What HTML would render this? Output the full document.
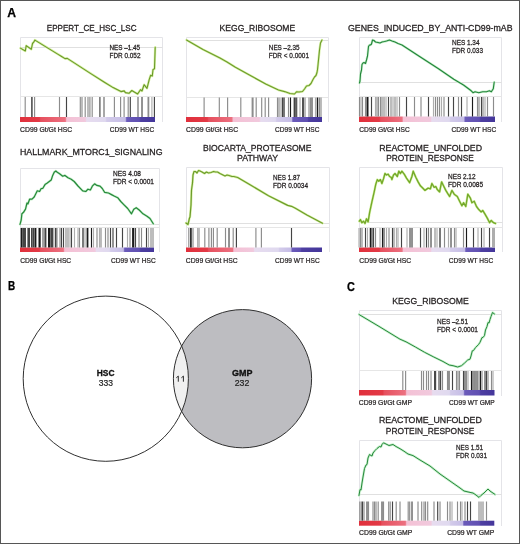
<!DOCTYPE html><html><head><meta charset="utf-8"><style>html,body{margin:0;padding:0;background:#fff;}svg{display:block;filter:blur(0.3px);}text{font-family:"Liberation Sans", sans-serif;}</style></head><body>
<svg width="520" height="544" viewBox="0 0 520 544">
<rect x="0" y="0" width="520" height="544" fill="#fff"/>
<text x="7.2" y="17" font-size="12" font-weight="bold" text-anchor="start" fill="#000" stroke="#000" stroke-width="0.25" textLength="8.8" lengthAdjust="spacingAndGlyphs">A</text>
<text x="8.1" y="290.2" font-size="12" font-weight="bold" text-anchor="start" fill="#000" stroke="#000" stroke-width="0.25" textLength="7.2" lengthAdjust="spacingAndGlyphs">B</text>
<text x="347.1" y="290.5" font-size="12" font-weight="bold" text-anchor="start" fill="#000" stroke="#000" stroke-width="0.25" textLength="7.9" lengthAdjust="spacingAndGlyphs">C</text>
<path d="M20.5 122 V37.5 H162.5 V122" fill="none" stroke="#e4e4e8" stroke-width="1"/>
<line x1="20.5" y1="47.5" x2="162.5" y2="47.5" stroke="#e0e0e0" stroke-width="1"/>
<line x1="20.5" y1="96.5" x2="162.5" y2="96.5" stroke="#e6e6e6" stroke-width="1"/>
<defs><linearGradient id="g1" gradientUnits="userSpaceOnUse" x1="20" y1="0" x2="155" y2="0"><stop offset="0.0000" stop-color="#e0303c"/><stop offset="0.1430" stop-color="#e33a46"/><stop offset="0.1533" stop-color="#e6505e"/><stop offset="0.3356" stop-color="#ec7080"/><stop offset="0.3459" stop-color="#f4c1d5"/><stop offset="0.4837" stop-color="#f1c9dd"/><stop offset="0.4941" stop-color="#e7dcef"/><stop offset="0.6319" stop-color="#dfd9ef"/><stop offset="0.6422" stop-color="#d3cbea"/><stop offset="0.7800" stop-color="#c5bde6"/><stop offset="0.7904" stop-color="#6b5bba"/><stop offset="0.8837" stop-color="#6050b2"/><stop offset="0.8941" stop-color="#4e3fa2"/><stop offset="1.0000" stop-color="#44369a"/></linearGradient></defs>
<rect x="20" y="117" width="135" height="5" fill="url(#g1)"/>
<rect x="24.62" y="97" width="1.15" height="20" fill="#8c8c8c"/>
<rect x="31.15" y="97" width="1.50" height="20" fill="#444444"/>
<rect x="34.02" y="97" width="1.15" height="20" fill="#8c8c8c"/>
<rect x="58.92" y="97" width="1.15" height="20" fill="#8c8c8c"/>
<rect x="65.92" y="97" width="1.15" height="20" fill="#444444"/>
<rect x="79.72" y="97" width="1.15" height="20" fill="#8c8c8c"/>
<rect x="81.42" y="97" width="1.15" height="20" fill="#8c8c8c"/>
<rect x="84.62" y="97" width="1.15" height="20" fill="#8c8c8c"/>
<rect x="87.42" y="97" width="1.15" height="20" fill="#8c8c8c"/>
<rect x="89.33" y="97" width="1.15" height="20" fill="#8c8c8c"/>
<rect x="91.62" y="97" width="1.15" height="20" fill="#8c8c8c"/>
<rect x="99.33" y="97" width="1.15" height="20" fill="#444444"/>
<rect x="103.25" y="97" width="1.50" height="20" fill="#8c8c8c"/>
<rect x="113.83" y="97" width="1.15" height="20" fill="#8c8c8c"/>
<rect x="120.02" y="97" width="1.15" height="20" fill="#8c8c8c"/>
<rect x="123.52" y="97" width="1.15" height="20" fill="#8c8c8c"/>
<rect x="127.62" y="97" width="1.15" height="20" fill="#8c8c8c"/>
<rect x="129.73" y="97" width="1.15" height="20" fill="#444444"/>
<rect x="137.25" y="97" width="1.50" height="20" fill="#8c8c8c"/>
<rect x="141.43" y="97" width="1.15" height="20" fill="#444444"/>
<rect x="147.50" y="97" width="1.80" height="20" fill="#8c8c8c"/>
<rect x="151.33" y="97" width="1.15" height="20" fill="#adadad"/>
<rect x="153.83" y="97" width="1.15" height="20" fill="#444444"/>
<polyline points="20.4,48.1 25.3,51.0 26.2,45.6 31.3,49.3 32.6,43.2 33.5,42.5 34.9,40.1 58.5,54.6 61.2,56.2 65.0,58.6 67.3,58.4 90.0,73.1 104.4,82.2 113.1,87.6 121.0,91.6 124.2,90.9 125.4,92.6 129.0,93.3 131.8,90.5 137.6,94.0 140.5,89.7 142.0,91.0 144.1,84.7 147.0,88.3 149.2,79.6 150.6,75.3 152.3,76.0 153.0,69.5 154.5,68.8 155.2,47.2" fill="none" stroke="#d8f0a8" stroke-width="2.4" stroke-linejoin="round" stroke-linecap="round"/>
<polyline points="20.4,48.1 25.3,51.0 26.2,45.6 31.3,49.3 32.6,43.2 33.5,42.5 34.9,40.1 58.5,54.6 61.2,56.2 65.0,58.6 67.3,58.4 90.0,73.1 104.4,82.2 113.1,87.6 121.0,91.6 124.2,90.9 125.4,92.6 129.0,93.3 131.8,90.5 137.6,94.0 140.5,89.7 142.0,91.0 144.1,84.7 147.0,88.3 149.2,79.6 150.6,75.3 152.3,76.0 153.0,69.5 154.5,68.8 155.2,47.2" fill="none" stroke="#6a9a28" stroke-width="1.1" stroke-linejoin="round" stroke-linecap="round"/>
<text x="46.8" y="30.6" font-size="9.7" font-weight="normal" text-anchor="start" fill="#231f20" stroke="#231f20" stroke-width="0.3" textLength="89.7" lengthAdjust="spacingAndGlyphs">EPPERT_CE_HSC_LSC</text>
<text x="109.5" y="50" font-size="7.2" font-weight="normal" text-anchor="start" fill="#231f20" stroke="#231f20" stroke-width="0.26" textLength="30.5" lengthAdjust="spacingAndGlyphs">NES –1.45</text>
<text x="109.5" y="57.5" font-size="7.2" font-weight="normal" text-anchor="start" fill="#231f20" stroke="#231f20" stroke-width="0.26" textLength="31.0" lengthAdjust="spacingAndGlyphs">FDR 0.052</text>
<text x="20.1" y="131.8" font-size="7.0" font-weight="normal" text-anchor="start" fill="#231f20" stroke="#231f20" stroke-width="0.22" textLength="52.1" lengthAdjust="spacingAndGlyphs">CD99 Gt/Gt HSC</text>
<text x="109.8" y="131.8" font-size="7.0" font-weight="normal" text-anchor="start" fill="#231f20" stroke="#231f20" stroke-width="0.22" textLength="44.4" lengthAdjust="spacingAndGlyphs">CD99 WT HSC</text>
<path d="M186.5 122 V37.5 H328.5 V122" fill="none" stroke="#e4e4e8" stroke-width="1"/>
<line x1="186.5" y1="40.5" x2="328.5" y2="40.5" stroke="#e0e0e0" stroke-width="1"/>
<line x1="186.5" y1="97.5" x2="328.5" y2="97.5" stroke="#e6e6e6" stroke-width="1"/>
<defs><linearGradient id="g2" gradientUnits="userSpaceOnUse" x1="186" y1="0" x2="322" y2="0"><stop offset="0.0000" stop-color="#e0303c"/><stop offset="0.1566" stop-color="#e33a46"/><stop offset="0.1669" stop-color="#e6505e"/><stop offset="0.3368" stop-color="#ec7080"/><stop offset="0.3471" stop-color="#f4c1d5"/><stop offset="0.5390" stop-color="#f1c9dd"/><stop offset="0.5493" stop-color="#e7dcef"/><stop offset="0.6566" stop-color="#dfd9ef"/><stop offset="0.6669" stop-color="#d3cbea"/><stop offset="0.7757" stop-color="#c5bde6"/><stop offset="0.7860" stop-color="#6b5bba"/><stop offset="0.8919" stop-color="#6050b2"/><stop offset="0.9022" stop-color="#4e3fa2"/><stop offset="1.0000" stop-color="#44369a"/></linearGradient></defs>
<rect x="186" y="117" width="136" height="5" fill="url(#g2)"/>
<rect x="203.53" y="97.5" width="1.15" height="19.5" fill="#8c8c8c"/>
<rect x="218.73" y="97.5" width="1.15" height="19.5" fill="#8c8c8c"/>
<rect x="227.03" y="97.5" width="1.15" height="19.5" fill="#8c8c8c"/>
<rect x="240.23" y="97.5" width="1.15" height="19.5" fill="#8c8c8c"/>
<rect x="251.60" y="97.5" width="2.00" height="19.5" fill="#8c8c8c"/>
<rect x="255.62" y="97.5" width="1.15" height="19.5" fill="#8c8c8c"/>
<rect x="261.12" y="97.5" width="1.15" height="19.5" fill="#8c8c8c"/>
<rect x="264.62" y="97.5" width="1.15" height="19.5" fill="#8c8c8c"/>
<rect x="268.03" y="97.5" width="1.15" height="19.5" fill="#8c8c8c"/>
<rect x="276.93" y="97.5" width="1.15" height="19.5" fill="#8c8c8c"/>
<rect x="278.43" y="97.5" width="1.15" height="19.5" fill="#8c8c8c"/>
<rect x="280.43" y="97.5" width="1.15" height="19.5" fill="#adadad"/>
<rect x="281.93" y="97.5" width="1.15" height="19.5" fill="#444444"/>
<rect x="283.43" y="97.5" width="1.15" height="19.5" fill="#1a1a1a"/>
<rect x="287.93" y="97.5" width="1.15" height="19.5" fill="#8c8c8c"/>
<rect x="289.93" y="97.5" width="1.15" height="19.5" fill="#1a1a1a"/>
<rect x="293.60" y="97.5" width="2.20" height="19.5" fill="#444444"/>
<rect x="296.12" y="97.5" width="1.15" height="19.5" fill="#444444"/>
<rect x="299.43" y="97.5" width="1.15" height="19.5" fill="#adadad"/>
<rect x="302.25" y="97.5" width="1.50" height="19.5" fill="#1a1a1a"/>
<rect x="304.43" y="97.5" width="1.15" height="19.5" fill="#8c8c8c"/>
<rect x="308.43" y="97.5" width="1.15" height="19.5" fill="#8c8c8c"/>
<rect x="309.93" y="97.5" width="1.15" height="19.5" fill="#8c8c8c"/>
<rect x="311.43" y="97.5" width="1.15" height="19.5" fill="#444444"/>
<rect x="314.93" y="97.5" width="1.15" height="19.5" fill="#adadad"/>
<rect x="316.75" y="97.5" width="1.50" height="19.5" fill="#1a1a1a"/>
<rect x="318.93" y="97.5" width="1.15" height="19.5" fill="#8c8c8c"/>
<rect x="320.43" y="97.5" width="1.15" height="19.5" fill="#8c8c8c"/>
<polyline points="186.5,40.0 203.0,49.5 220.0,58.1 227.0,62.0 235.4,67.3 250.8,75.8 266.2,84.2 278.5,90.0 284.6,91.6 290.0,93.5 294.5,94.0 296.5,91.8 299.0,92.0 302.5,91.5 304.5,89.0 306.5,86.0 309.0,85.5 311.0,83.5 313.0,79.5 314.5,77.0 316.0,75.5 317.0,72.5 317.5,69.5 318.0,65.0 318.5,60.0 319.5,50.0 320.5,43.0 322.0,40.0" fill="none" stroke="#d8f0a8" stroke-width="2.4" stroke-linejoin="round" stroke-linecap="round"/>
<polyline points="186.5,40.0 203.0,49.5 220.0,58.1 227.0,62.0 235.4,67.3 250.8,75.8 266.2,84.2 278.5,90.0 284.6,91.6 290.0,93.5 294.5,94.0 296.5,91.8 299.0,92.0 302.5,91.5 304.5,89.0 306.5,86.0 309.0,85.5 311.0,83.5 313.0,79.5 314.5,77.0 316.0,75.5 317.0,72.5 317.5,69.5 318.0,65.0 318.5,60.0 319.5,50.0 320.5,43.0 322.0,40.0" fill="none" stroke="#6c9c2a" stroke-width="1.1" stroke-linejoin="round" stroke-linecap="round"/>
<text x="219.6" y="30.9" font-size="9.7" font-weight="normal" text-anchor="start" fill="#231f20" stroke="#231f20" stroke-width="0.3" textLength="75.5" lengthAdjust="spacingAndGlyphs">KEGG_RIBOSOME</text>
<text x="268.8" y="49.8" font-size="7.2" font-weight="normal" text-anchor="start" fill="#231f20" stroke="#231f20" stroke-width="0.26" textLength="30.7" lengthAdjust="spacingAndGlyphs">NES –2.35</text>
<text x="268.8" y="57.5" font-size="7.2" font-weight="normal" text-anchor="start" fill="#231f20" stroke="#231f20" stroke-width="0.26" textLength="40.2" lengthAdjust="spacingAndGlyphs">FDR &lt; 0.0001</text>
<text x="186" y="131.8" font-size="7.0" font-weight="normal" text-anchor="start" fill="#231f20" stroke="#231f20" stroke-width="0.22" textLength="52.1" lengthAdjust="spacingAndGlyphs">CD99 Gt/Gt HSC</text>
<text x="275.1" y="131.8" font-size="7.0" font-weight="normal" text-anchor="start" fill="#231f20" stroke="#231f20" stroke-width="0.22" textLength="44.4" lengthAdjust="spacingAndGlyphs">CD99 WT HSC</text>
<path d="M359.5 122 V37.5 H501.5 V122" fill="none" stroke="#e4e4e8" stroke-width="1"/>
<line x1="359.5" y1="82.5" x2="501.5" y2="82.5" stroke="#e0e0e0" stroke-width="1"/>
<line x1="359.5" y1="96.5" x2="501.5" y2="96.5" stroke="#e6e6e6" stroke-width="1"/>
<defs><linearGradient id="g3" gradientUnits="userSpaceOnUse" x1="359" y1="0" x2="495" y2="0"><stop offset="0.0000" stop-color="#e0303c"/><stop offset="0.1493" stop-color="#e33a46"/><stop offset="0.1596" stop-color="#e6505e"/><stop offset="0.3162" stop-color="#ec7080"/><stop offset="0.3265" stop-color="#f4c1d5"/><stop offset="0.5257" stop-color="#f1c9dd"/><stop offset="0.5360" stop-color="#e7dcef"/><stop offset="0.6640" stop-color="#dfd9ef"/><stop offset="0.6743" stop-color="#d3cbea"/><stop offset="0.7706" stop-color="#c5bde6"/><stop offset="0.7809" stop-color="#6b5bba"/><stop offset="0.8846" stop-color="#6050b2"/><stop offset="0.8949" stop-color="#4e3fa2"/><stop offset="1.0000" stop-color="#44369a"/></linearGradient></defs>
<rect x="359" y="116.5" width="136" height="5.5" fill="url(#g3)"/>
<rect x="358.93" y="97" width="1.15" height="19.5" fill="#8c8c8c"/>
<rect x="360.43" y="97" width="1.15" height="19.5" fill="#adadad"/>
<rect x="361.93" y="97" width="1.15" height="19.5" fill="#8c8c8c"/>
<rect x="364.93" y="97" width="1.15" height="19.5" fill="#8c8c8c"/>
<rect x="366.50" y="97" width="2.00" height="19.5" fill="#1a1a1a"/>
<rect x="370.93" y="97" width="1.15" height="19.5" fill="#444444"/>
<rect x="374.93" y="97" width="1.15" height="19.5" fill="#adadad"/>
<rect x="376.43" y="97" width="1.15" height="19.5" fill="#8c8c8c"/>
<rect x="377.93" y="97" width="1.15" height="19.5" fill="#8c8c8c"/>
<rect x="379.93" y="97" width="1.15" height="19.5" fill="#8c8c8c"/>
<rect x="381.43" y="97" width="1.15" height="19.5" fill="#8c8c8c"/>
<rect x="383.43" y="97" width="1.15" height="19.5" fill="#8c8c8c"/>
<rect x="385.43" y="97" width="1.15" height="19.5" fill="#adadad"/>
<rect x="387.93" y="97" width="1.15" height="19.5" fill="#444444"/>
<rect x="390.43" y="97" width="1.15" height="19.5" fill="#8c8c8c"/>
<rect x="392.43" y="97" width="1.15" height="19.5" fill="#adadad"/>
<rect x="394.43" y="97" width="1.15" height="19.5" fill="#8c8c8c"/>
<rect x="396.43" y="97" width="1.15" height="19.5" fill="#adadad"/>
<rect x="398.93" y="97" width="1.15" height="19.5" fill="#8c8c8c"/>
<rect x="405.93" y="97" width="1.15" height="19.5" fill="#444444"/>
<rect x="413.93" y="97" width="1.15" height="19.5" fill="#8c8c8c"/>
<rect x="420.43" y="97" width="1.15" height="19.5" fill="#8c8c8c"/>
<rect x="427.93" y="97" width="1.15" height="19.5" fill="#444444"/>
<rect x="432.93" y="97" width="1.15" height="19.5" fill="#adadad"/>
<rect x="434.93" y="97" width="1.15" height="19.5" fill="#8c8c8c"/>
<rect x="436.93" y="97" width="1.15" height="19.5" fill="#8c8c8c"/>
<rect x="438.93" y="97" width="1.15" height="19.5" fill="#8c8c8c"/>
<rect x="440.93" y="97" width="1.15" height="19.5" fill="#adadad"/>
<rect x="443.43" y="97" width="1.15" height="19.5" fill="#8c8c8c"/>
<rect x="447.93" y="97" width="1.15" height="19.5" fill="#444444"/>
<rect x="452.93" y="97" width="1.15" height="19.5" fill="#444444"/>
<rect x="457.93" y="97" width="1.15" height="19.5" fill="#8c8c8c"/>
<rect x="460.93" y="97" width="1.15" height="19.5" fill="#444444"/>
<rect x="466.43" y="97" width="1.15" height="19.5" fill="#adadad"/>
<rect x="471.93" y="97" width="1.15" height="19.5" fill="#1a1a1a"/>
<rect x="476.93" y="97" width="1.15" height="19.5" fill="#8c8c8c"/>
<rect x="478.43" y="97" width="1.15" height="19.5" fill="#8c8c8c"/>
<rect x="480.93" y="97" width="1.15" height="19.5" fill="#444444"/>
<rect x="482.43" y="97" width="1.15" height="19.5" fill="#8c8c8c"/>
<rect x="484.43" y="97" width="1.15" height="19.5" fill="#adadad"/>
<rect x="486.93" y="97" width="1.15" height="19.5" fill="#8c8c8c"/>
<rect x="492.93" y="97" width="1.15" height="19.5" fill="#8c8c8c"/>
<polyline points="359.5,83.0 360.0,81.0 360.5,74.0 361.5,70.0 362.0,64.5 363.0,63.0 364.0,62.5 365.5,63.5 366.5,60.0 367.5,56.0 368.5,46.5 369.5,45.0 370.5,45.0 371.5,44.0 372.5,40.0 374.0,40.5 375.5,42.0 378.0,42.5 380.0,43.0 382.0,42.0 384.5,41.5 386.5,41.0 389.5,40.0 392.0,41.0 395.0,42.0 398.0,43.5 402.0,45.0 405.8,47.5 419.2,56.2 438.5,68.7 453.8,79.2 463.5,85.0 471.2,90.8 473.0,92.7 475.0,91.7 478.8,92.7 482.7,91.7 486.5,91.7 489.4,90.8 491.3,91.7 493.3,88.8 494.2,82.1" fill="none" stroke="#c8f0cc" stroke-width="2.4" stroke-linejoin="round" stroke-linecap="round"/>
<polyline points="359.5,83.0 360.0,81.0 360.5,74.0 361.5,70.0 362.0,64.5 363.0,63.0 364.0,62.5 365.5,63.5 366.5,60.0 367.5,56.0 368.5,46.5 369.5,45.0 370.5,45.0 371.5,44.0 372.5,40.0 374.0,40.5 375.5,42.0 378.0,42.5 380.0,43.0 382.0,42.0 384.5,41.5 386.5,41.0 389.5,40.0 392.0,41.0 395.0,42.0 398.0,43.5 402.0,45.0 405.8,47.5 419.2,56.2 438.5,68.7 453.8,79.2 463.5,85.0 471.2,90.8 473.0,92.7 475.0,91.7 478.8,92.7 482.7,91.7 486.5,91.7 489.4,90.8 491.3,91.7 493.3,88.8 494.2,82.1" fill="none" stroke="#22843a" stroke-width="1.1" stroke-linejoin="round" stroke-linecap="round"/>
<text x="348" y="30.6" font-size="9.7" font-weight="normal" text-anchor="start" fill="#231f20" stroke="#231f20" stroke-width="0.3" textLength="164.5" lengthAdjust="spacingAndGlyphs">GENES_INDUCED_BY_ANTI-CD99-mAB</text>
<text x="452" y="44.5" font-size="7.2" font-weight="normal" text-anchor="start" fill="#231f20" stroke="#231f20" stroke-width="0.26" textLength="27.5" lengthAdjust="spacingAndGlyphs">NES 1.34</text>
<text x="452" y="52.5" font-size="7.2" font-weight="normal" text-anchor="start" fill="#231f20" stroke="#231f20" stroke-width="0.26" textLength="31" lengthAdjust="spacingAndGlyphs">FDR 0.033</text>
<text x="359.3" y="131.8" font-size="7.0" font-weight="normal" text-anchor="start" fill="#231f20" stroke="#231f20" stroke-width="0.22" textLength="50.5" lengthAdjust="spacingAndGlyphs">CD99 Gt/Gt HSC</text>
<text x="451.5" y="131.8" font-size="7.0" font-weight="normal" text-anchor="start" fill="#231f20" stroke="#231f20" stroke-width="0.22" textLength="44.7" lengthAdjust="spacingAndGlyphs">CD99 WT HSC</text>
<path d="M20.5 252 V168.5 H159.5 V252" fill="none" stroke="#e4e4e8" stroke-width="1"/>
<line x1="20.5" y1="224.5" x2="159.5" y2="224.5" stroke="#e0e0e0" stroke-width="1"/>
<line x1="20.5" y1="227.5" x2="159.5" y2="227.5" stroke="#e6e6e6" stroke-width="1"/>
<defs><linearGradient id="g4" gradientUnits="userSpaceOnUse" x1="20" y1="0" x2="154" y2="0"><stop offset="0.0000" stop-color="#e0303c"/><stop offset="0.1440" stop-color="#e33a46"/><stop offset="0.1545" stop-color="#e6505e"/><stop offset="0.3231" stop-color="#ec7080"/><stop offset="0.3336" stop-color="#f4c1d5"/><stop offset="0.5597" stop-color="#f1c9dd"/><stop offset="0.5701" stop-color="#e7dcef"/><stop offset="0.6664" stop-color="#dfd9ef"/><stop offset="0.6769" stop-color="#d3cbea"/><stop offset="0.7709" stop-color="#c5bde6"/><stop offset="0.7813" stop-color="#6b5bba"/><stop offset="0.8903" stop-color="#6050b2"/><stop offset="0.9007" stop-color="#4e3fa2"/><stop offset="1.0000" stop-color="#44369a"/></linearGradient></defs>
<rect x="20" y="247.5" width="134" height="4.5" fill="url(#g4)"/>
<rect x="20.65" y="228" width="1.50" height="19.5" fill="#1a1a1a"/>
<rect x="22.20" y="228" width="2.80" height="19.5" fill="#444444"/>
<rect x="25.20" y="228" width="0.80" height="19.5" fill="#1a1a1a"/>
<rect x="27.40" y="228" width="2.60" height="19.5" fill="#444444"/>
<rect x="31.00" y="228" width="1.60" height="19.5" fill="#444444"/>
<rect x="32.60" y="228" width="2.00" height="19.5" fill="#444444"/>
<rect x="34.80" y="228" width="1.60" height="19.5" fill="#1a1a1a"/>
<rect x="38.50" y="228" width="2.20" height="19.5" fill="#1a1a1a"/>
<rect x="42.20" y="228" width="1.60" height="19.5" fill="#8c8c8c"/>
<rect x="44.40" y="228" width="2.00" height="19.5" fill="#444444"/>
<rect x="48.00" y="228" width="2.60" height="19.5" fill="#1a1a1a"/>
<rect x="51.00" y="228" width="2.40" height="19.5" fill="#444444"/>
<rect x="54.80" y="228" width="1.80" height="19.5" fill="#444444"/>
<rect x="56.42" y="228" width="1.15" height="19.5" fill="#8c8c8c"/>
<rect x="59.42" y="228" width="1.15" height="19.5" fill="#8c8c8c"/>
<rect x="60.92" y="228" width="1.15" height="19.5" fill="#444444"/>
<rect x="62.92" y="228" width="1.15" height="19.5" fill="#444444"/>
<rect x="65.42" y="228" width="1.15" height="19.5" fill="#8c8c8c"/>
<rect x="67.42" y="228" width="1.15" height="19.5" fill="#8c8c8c"/>
<rect x="69.42" y="228" width="1.15" height="19.5" fill="#adadad"/>
<rect x="70.92" y="228" width="1.15" height="19.5" fill="#444444"/>
<rect x="73.92" y="228" width="1.15" height="19.5" fill="#adadad"/>
<rect x="77.42" y="228" width="1.15" height="19.5" fill="#adadad"/>
<rect x="78.92" y="228" width="1.15" height="19.5" fill="#8c8c8c"/>
<rect x="82.42" y="228" width="1.15" height="19.5" fill="#1a1a1a"/>
<rect x="84.42" y="228" width="1.15" height="19.5" fill="#adadad"/>
<rect x="86.60" y="228" width="1.80" height="19.5" fill="#1a1a1a"/>
<rect x="90.92" y="228" width="1.15" height="19.5" fill="#1a1a1a"/>
<rect x="92.92" y="228" width="1.15" height="19.5" fill="#adadad"/>
<rect x="96.42" y="228" width="1.15" height="19.5" fill="#8c8c8c"/>
<rect x="98.92" y="228" width="1.15" height="19.5" fill="#adadad"/>
<rect x="100.42" y="228" width="1.15" height="19.5" fill="#8c8c8c"/>
<rect x="104.92" y="228" width="1.15" height="19.5" fill="#8c8c8c"/>
<rect x="107.42" y="228" width="1.15" height="19.5" fill="#8c8c8c"/>
<rect x="109.92" y="228" width="1.15" height="19.5" fill="#444444"/>
<rect x="112.42" y="228" width="1.15" height="19.5" fill="#444444"/>
<rect x="115.92" y="228" width="1.15" height="19.5" fill="#444444"/>
<rect x="121.92" y="228" width="1.15" height="19.5" fill="#444444"/>
<rect x="126.92" y="228" width="1.15" height="19.5" fill="#adadad"/>
<rect x="129.43" y="228" width="1.15" height="19.5" fill="#8c8c8c"/>
<rect x="132.10" y="228" width="2.20" height="19.5" fill="#1a1a1a"/>
<rect x="134.93" y="228" width="1.15" height="19.5" fill="#444444"/>
<rect x="138.43" y="228" width="1.15" height="19.5" fill="#8c8c8c"/>
<rect x="140.93" y="228" width="1.15" height="19.5" fill="#8c8c8c"/>
<rect x="145.93" y="228" width="1.15" height="19.5" fill="#444444"/>
<rect x="147.93" y="228" width="1.15" height="19.5" fill="#adadad"/>
<rect x="150.43" y="228" width="1.15" height="19.5" fill="#8c8c8c"/>
<rect x="152.43" y="228" width="1.15" height="19.5" fill="#8c8c8c"/>
<polyline points="20.0,224.3 21.2,220.0 21.9,213.8 23.5,212.3 25.5,209.2 27.0,203.0 28.0,203.8 29.6,199.2 32.0,199.2 34.2,197.0 37.3,190.8 39.6,191.5 41.2,188.5 42.7,188.5 45.0,184.6 47.3,183.0 51.2,180.0 52.7,175.4 54.2,172.3 55.8,171.0 57.3,172.3 59.6,173.8 62.7,176.2 65.0,175.4 68.0,177.7 71.2,179.2 74.2,181.5 78.0,186.0 82.7,190.8 85.8,191.5 88.0,189.2 90.4,190.0 92.3,186.2 94.6,183.8 96.9,185.4 100.0,186.2 102.3,188.5 104.6,192.3 108.5,193.0 111.5,194.6 114.6,196.2 117.7,197.7 120.8,201.5 123.8,204.6 127.7,208.5 131.5,213.8 133.8,209.2 136.2,207.7 139.2,210.0 143.0,213.8 147.0,216.2 150.0,218.5 153.3,223.8" fill="none" stroke="#c8f0cc" stroke-width="2.4" stroke-linejoin="round" stroke-linecap="round"/>
<polyline points="20.0,224.3 21.2,220.0 21.9,213.8 23.5,212.3 25.5,209.2 27.0,203.0 28.0,203.8 29.6,199.2 32.0,199.2 34.2,197.0 37.3,190.8 39.6,191.5 41.2,188.5 42.7,188.5 45.0,184.6 47.3,183.0 51.2,180.0 52.7,175.4 54.2,172.3 55.8,171.0 57.3,172.3 59.6,173.8 62.7,176.2 65.0,175.4 68.0,177.7 71.2,179.2 74.2,181.5 78.0,186.0 82.7,190.8 85.8,191.5 88.0,189.2 90.4,190.0 92.3,186.2 94.6,183.8 96.9,185.4 100.0,186.2 102.3,188.5 104.6,192.3 108.5,193.0 111.5,194.6 114.6,196.2 117.7,197.7 120.8,201.5 123.8,204.6 127.7,208.5 131.5,213.8 133.8,209.2 136.2,207.7 139.2,210.0 143.0,213.8 147.0,216.2 150.0,218.5 153.3,223.8" fill="none" stroke="#26883a" stroke-width="1.2" stroke-linejoin="round" stroke-linecap="round"/>
<text x="20" y="155.4" font-size="9.7" font-weight="normal" text-anchor="start" fill="#231f20" stroke="#231f20" stroke-width="0.3" textLength="142.5" lengthAdjust="spacingAndGlyphs">HALLMARK_MTORC1_SIGNALING</text>
<text x="113" y="175.8" font-size="7.2" font-weight="normal" text-anchor="start" fill="#231f20" stroke="#231f20" stroke-width="0.26" textLength="28" lengthAdjust="spacingAndGlyphs">NES 4.08</text>
<text x="113" y="183.5" font-size="7.2" font-weight="normal" text-anchor="start" fill="#231f20" stroke="#231f20" stroke-width="0.26" textLength="41" lengthAdjust="spacingAndGlyphs">FDR &lt; 0.0001</text>
<text x="20.2" y="262.5" font-size="7.0" font-weight="normal" text-anchor="start" fill="#231f20" stroke="#231f20" stroke-width="0.22" textLength="51.0" lengthAdjust="spacingAndGlyphs">CD99 Gt/Gt HSC</text>
<text x="111" y="262.5" font-size="7.0" font-weight="normal" text-anchor="start" fill="#231f20" stroke="#231f20" stroke-width="0.22" textLength="44.7" lengthAdjust="spacingAndGlyphs">CD99 WT HSC</text>
<path d="M186.5 252 V167.5 H329.5 V252" fill="none" stroke="#e4e4e8" stroke-width="1"/>
<line x1="186.5" y1="223.5" x2="329.5" y2="223.5" stroke="#e0e0e0" stroke-width="1"/>
<line x1="186.5" y1="227.5" x2="329.5" y2="227.5" stroke="#e6e6e6" stroke-width="1"/>
<defs><linearGradient id="g5" gradientUnits="userSpaceOnUse" x1="186" y1="0" x2="322" y2="0"><stop offset="0.0000" stop-color="#e0303c"/><stop offset="0.1566" stop-color="#e33a46"/><stop offset="0.1669" stop-color="#e6505e"/><stop offset="0.3419" stop-color="#ec7080"/><stop offset="0.3522" stop-color="#f4c1d5"/><stop offset="0.4949" stop-color="#f1c9dd"/><stop offset="0.5051" stop-color="#e7dcef"/><stop offset="0.6787" stop-color="#dfd9ef"/><stop offset="0.6890" stop-color="#d3cbea"/><stop offset="0.7706" stop-color="#c5bde6"/><stop offset="0.7809" stop-color="#6b5bba"/><stop offset="0.8404" stop-color="#6050b2"/><stop offset="0.8507" stop-color="#4e3fa2"/><stop offset="1.0000" stop-color="#44369a"/></linearGradient></defs>
<rect x="186" y="247.5" width="136" height="4.5" fill="url(#g5)"/>
<rect x="188.23" y="228" width="1.15" height="19.5" fill="#8c8c8c"/>
<rect x="190.10" y="228" width="1.60" height="19.5" fill="#1a1a1a"/>
<rect x="192.43" y="228" width="1.15" height="19.5" fill="#8c8c8c"/>
<rect x="197.33" y="228" width="1.15" height="19.5" fill="#8c8c8c"/>
<rect x="198.62" y="228" width="1.15" height="19.5" fill="#adadad"/>
<rect x="204.23" y="228" width="1.15" height="19.5" fill="#8c8c8c"/>
<rect x="208.33" y="228" width="1.15" height="19.5" fill="#8c8c8c"/>
<rect x="210.83" y="228" width="1.15" height="19.5" fill="#8c8c8c"/>
<rect x="212.83" y="228" width="1.15" height="19.5" fill="#8c8c8c"/>
<rect x="216.62" y="228" width="1.15" height="19.5" fill="#8c8c8c"/>
<rect x="224.93" y="228" width="1.15" height="19.5" fill="#8c8c8c"/>
<rect x="228.43" y="228" width="1.15" height="19.5" fill="#444444"/>
<rect x="232.62" y="228" width="1.15" height="19.5" fill="#8c8c8c"/>
<rect x="235.83" y="228" width="1.15" height="19.5" fill="#444444"/>
<rect x="255.33" y="228" width="1.15" height="19.5" fill="#8c8c8c"/>
<rect x="260.82" y="228" width="1.15" height="19.5" fill="#8c8c8c"/>
<rect x="290.93" y="228" width="1.15" height="19.5" fill="#444444"/>
<polyline points="186.0,223.0 188.0,224.5 189.5,218.0 190.0,217.0 191.0,205.0 191.5,190.0 192.5,183.0 193.0,175.0 194.0,171.5 195.5,171.5 197.0,173.0 198.5,170.5 200.0,171.0 202.0,172.0 204.5,173.5 206.5,172.0 208.5,173.0 211.0,172.5 213.5,171.5 215.5,172.0 217.5,172.0 220.0,173.5 223.0,175.0 225.0,176.0 227.0,175.0 229.0,175.5 232.0,176.5 233.8,176.5 237.7,177.5 249.2,184.2 268.5,195.8 287.7,205.4 291.5,206.3 295.4,208.3 306.9,215.0 322.5,223.2" fill="none" stroke="#d8f0a8" stroke-width="2.4" stroke-linejoin="round" stroke-linecap="round"/>
<polyline points="186.0,223.0 188.0,224.5 189.5,218.0 190.0,217.0 191.0,205.0 191.5,190.0 192.5,183.0 193.0,175.0 194.0,171.5 195.5,171.5 197.0,173.0 198.5,170.5 200.0,171.0 202.0,172.0 204.5,173.5 206.5,172.0 208.5,173.0 211.0,172.5 213.5,171.5 215.5,172.0 217.5,172.0 220.0,173.5 223.0,175.0 225.0,176.0 227.0,175.0 229.0,175.5 232.0,176.5 233.8,176.5 237.7,177.5 249.2,184.2 268.5,195.8 287.7,205.4 291.5,206.3 295.4,208.3 306.9,215.0 322.5,223.2" fill="none" stroke="#6c9c2a" stroke-width="1.2" stroke-linejoin="round" stroke-linecap="round"/>
<text x="202.9" y="150.5" font-size="9.7" font-weight="normal" text-anchor="start" fill="#231f20" stroke="#231f20" stroke-width="0.3" textLength="108.6" lengthAdjust="spacingAndGlyphs">BIOCARTA_PROTEASOME</text>
<text x="237.1" y="160.8" font-size="9.7" font-weight="normal" text-anchor="start" fill="#231f20" stroke="#231f20" stroke-width="0.3" textLength="40.9" lengthAdjust="spacingAndGlyphs">PATHWAY</text>
<text x="273" y="180" font-size="7.2" font-weight="normal" text-anchor="start" fill="#231f20" stroke="#231f20" stroke-width="0.26" textLength="27" lengthAdjust="spacingAndGlyphs">NES 1.87</text>
<text x="273" y="188" font-size="7.2" font-weight="normal" text-anchor="start" fill="#231f20" stroke="#231f20" stroke-width="0.26" textLength="35" lengthAdjust="spacingAndGlyphs">FDR 0.0034</text>
<text x="185.8" y="262.5" font-size="7.0" font-weight="normal" text-anchor="start" fill="#231f20" stroke="#231f20" stroke-width="0.22" textLength="51.8" lengthAdjust="spacingAndGlyphs">CD99 Gt/Gt HSC</text>
<text x="275.1" y="262.5" font-size="7.0" font-weight="normal" text-anchor="start" fill="#231f20" stroke="#231f20" stroke-width="0.22" textLength="44.7" lengthAdjust="spacingAndGlyphs">CD99 WT HSC</text>
<path d="M359.5 252 V167.5 H502.5 V252" fill="none" stroke="#e4e4e8" stroke-width="1"/>
<line x1="359.5" y1="222.5" x2="502.5" y2="222.5" stroke="#e0e0e0" stroke-width="1"/>
<line x1="359.5" y1="227.5" x2="502.5" y2="227.5" stroke="#e6e6e6" stroke-width="1"/>
<defs><linearGradient id="g6" gradientUnits="userSpaceOnUse" x1="359" y1="0" x2="495" y2="0"><stop offset="0.0000" stop-color="#e0303c"/><stop offset="0.1493" stop-color="#e33a46"/><stop offset="0.1596" stop-color="#e6505e"/><stop offset="0.3162" stop-color="#ec7080"/><stop offset="0.3265" stop-color="#f4c1d5"/><stop offset="0.5257" stop-color="#f1c9dd"/><stop offset="0.5360" stop-color="#e7dcef"/><stop offset="0.6640" stop-color="#dfd9ef"/><stop offset="0.6743" stop-color="#d3cbea"/><stop offset="0.7757" stop-color="#c5bde6"/><stop offset="0.7860" stop-color="#6b5bba"/><stop offset="0.8846" stop-color="#6050b2"/><stop offset="0.8949" stop-color="#4e3fa2"/><stop offset="1.0000" stop-color="#44369a"/></linearGradient></defs>
<rect x="359" y="247.5" width="136" height="4.5" fill="url(#g6)"/>
<rect x="358.43" y="228" width="1.15" height="19.5" fill="#adadad"/>
<rect x="359.93" y="228" width="1.15" height="19.5" fill="#8c8c8c"/>
<rect x="361.43" y="228" width="1.15" height="19.5" fill="#8c8c8c"/>
<rect x="364.93" y="228" width="1.15" height="19.5" fill="#444444"/>
<rect x="366.93" y="228" width="1.15" height="19.5" fill="#adadad"/>
<rect x="369.75" y="228" width="1.50" height="19.5" fill="#1a1a1a"/>
<rect x="371.43" y="228" width="1.15" height="19.5" fill="#444444"/>
<rect x="372.93" y="228" width="1.15" height="19.5" fill="#444444"/>
<rect x="374.93" y="228" width="1.15" height="19.5" fill="#8c8c8c"/>
<rect x="379.43" y="228" width="1.15" height="19.5" fill="#adadad"/>
<rect x="381.93" y="228" width="1.15" height="19.5" fill="#1a1a1a"/>
<rect x="383.43" y="228" width="1.15" height="19.5" fill="#444444"/>
<rect x="385.93" y="228" width="1.15" height="19.5" fill="#adadad"/>
<rect x="388.43" y="228" width="1.15" height="19.5" fill="#8c8c8c"/>
<rect x="391.93" y="228" width="1.15" height="19.5" fill="#444444"/>
<rect x="393.43" y="228" width="1.15" height="19.5" fill="#8c8c8c"/>
<rect x="395.93" y="228" width="1.15" height="19.5" fill="#adadad"/>
<rect x="397.43" y="228" width="1.15" height="19.5" fill="#adadad"/>
<rect x="400.93" y="228" width="1.15" height="19.5" fill="#444444"/>
<rect x="406.43" y="228" width="1.15" height="19.5" fill="#adadad"/>
<rect x="409.43" y="228" width="1.15" height="19.5" fill="#444444"/>
<rect x="411.43" y="228" width="1.15" height="19.5" fill="#444444"/>
<rect x="419.93" y="228" width="1.15" height="19.5" fill="#444444"/>
<rect x="423.43" y="228" width="1.15" height="19.5" fill="#adadad"/>
<rect x="425.93" y="228" width="1.15" height="19.5" fill="#444444"/>
<rect x="427.93" y="228" width="1.15" height="19.5" fill="#8c8c8c"/>
<rect x="430.43" y="228" width="1.15" height="19.5" fill="#444444"/>
<rect x="434.43" y="228" width="1.15" height="19.5" fill="#8c8c8c"/>
<rect x="436.43" y="228" width="1.15" height="19.5" fill="#adadad"/>
<rect x="439.43" y="228" width="1.15" height="19.5" fill="#1a1a1a"/>
<rect x="443.93" y="228" width="1.15" height="19.5" fill="#8c8c8c"/>
<rect x="447.93" y="228" width="1.15" height="19.5" fill="#adadad"/>
<rect x="450.43" y="228" width="1.15" height="19.5" fill="#444444"/>
<rect x="453.93" y="228" width="1.15" height="19.5" fill="#8c8c8c"/>
<rect x="455.43" y="228" width="1.15" height="19.5" fill="#adadad"/>
<rect x="462.93" y="228" width="1.15" height="19.5" fill="#8c8c8c"/>
<rect x="465.93" y="228" width="1.15" height="19.5" fill="#1a1a1a"/>
<rect x="472.93" y="228" width="1.15" height="19.5" fill="#444444"/>
<rect x="477.43" y="228" width="1.15" height="19.5" fill="#adadad"/>
<rect x="480.93" y="228" width="1.15" height="19.5" fill="#444444"/>
<rect x="483.43" y="228" width="1.15" height="19.5" fill="#adadad"/>
<rect x="488.93" y="228" width="1.15" height="19.5" fill="#444444"/>
<rect x="492.00" y="228" width="3.00" height="19.5" fill="#adadad"/>
<polyline points="359.3,221.2 360.4,219.6 361.9,222.7 363.5,221.2 365.0,223.5 366.5,218.8 368.1,221.9 369.6,212.7 371.9,201.9 374.2,191.9 375.8,184.2 377.3,179.6 378.8,181.2 380.4,179.6 381.9,183.5 383.5,178.8 385.0,173.5 386.5,175.0 388.1,174.2 389.6,176.5 391.2,177.3 391.9,179.6 393.5,175.0 395.0,173.5 397.3,176.5 398.8,171.2 400.4,173.5 401.9,171.2 404.2,174.2 406.5,178.1 409.6,182.7 411.9,176.5 413.2,171.2 415.8,177.3 418.1,181.9 420.4,185.8 422.7,188.1 425.0,190.4 428.1,188.1 430.4,188.8 431.9,183.5 434.2,187.3 435.8,186.5 437.3,189.6 439.6,191.9 441.6,181.9 443.5,185.8 445.8,190.4 448.1,194.2 449.6,196.5 451.9,190.4 454.2,194.2 457.3,196.5 459.6,201.2 461.9,205.8 463.5,202.7 465.8,206.5 467.8,194.2 470.4,198.1 471.9,202.7 474.2,201.2 476.5,206.5 478.8,209.6 481.2,211.9 482.7,210.4 485.0,214.2 487.3,218.1 489.6,222.7 491.2,220.4 493.5,222.7 495.5,223.5" fill="none" stroke="#d4f2a4" stroke-width="2.4" stroke-linejoin="round" stroke-linecap="round"/>
<polyline points="359.3,221.2 360.4,219.6 361.9,222.7 363.5,221.2 365.0,223.5 366.5,218.8 368.1,221.9 369.6,212.7 371.9,201.9 374.2,191.9 375.8,184.2 377.3,179.6 378.8,181.2 380.4,179.6 381.9,183.5 383.5,178.8 385.0,173.5 386.5,175.0 388.1,174.2 389.6,176.5 391.2,177.3 391.9,179.6 393.5,175.0 395.0,173.5 397.3,176.5 398.8,171.2 400.4,173.5 401.9,171.2 404.2,174.2 406.5,178.1 409.6,182.7 411.9,176.5 413.2,171.2 415.8,177.3 418.1,181.9 420.4,185.8 422.7,188.1 425.0,190.4 428.1,188.1 430.4,188.8 431.9,183.5 434.2,187.3 435.8,186.5 437.3,189.6 439.6,191.9 441.6,181.9 443.5,185.8 445.8,190.4 448.1,194.2 449.6,196.5 451.9,190.4 454.2,194.2 457.3,196.5 459.6,201.2 461.9,205.8 463.5,202.7 465.8,206.5 467.8,194.2 470.4,198.1 471.9,202.7 474.2,201.2 476.5,206.5 478.8,209.6 481.2,211.9 482.7,210.4 485.0,214.2 487.3,218.1 489.6,222.7 491.2,220.4 493.5,222.7 495.5,223.5" fill="none" stroke="#74a82a" stroke-width="1.35" stroke-linejoin="round" stroke-linecap="round"/>
<text x="379.2" y="150.5" font-size="9.7" font-weight="normal" text-anchor="start" fill="#231f20" stroke="#231f20" stroke-width="0.3" textLength="102.8" lengthAdjust="spacingAndGlyphs">REACTOME_UNFOLDED</text>
<text x="386.2" y="160.8" font-size="9.7" font-weight="normal" text-anchor="start" fill="#231f20" stroke="#231f20" stroke-width="0.3" textLength="87.7" lengthAdjust="spacingAndGlyphs">PROTEIN_RESPONSE</text>
<text x="448" y="179" font-size="7.2" font-weight="normal" text-anchor="start" fill="#231f20" stroke="#231f20" stroke-width="0.26" textLength="27.5" lengthAdjust="spacingAndGlyphs">NES 2.12</text>
<text x="448" y="187" font-size="7.2" font-weight="normal" text-anchor="start" fill="#231f20" stroke="#231f20" stroke-width="0.26" textLength="35" lengthAdjust="spacingAndGlyphs">FDR 0.0085</text>
<text x="359.3" y="262.5" font-size="7.0" font-weight="normal" text-anchor="start" fill="#231f20" stroke="#231f20" stroke-width="0.22" textLength="51.9" lengthAdjust="spacingAndGlyphs">CD99 Gt/Gt HSC</text>
<text x="448.7" y="262.5" font-size="7.0" font-weight="normal" text-anchor="start" fill="#231f20" stroke="#231f20" stroke-width="0.22" textLength="44.6" lengthAdjust="spacingAndGlyphs">CD99 WT HSC</text>
<path d="M359.5 396 V310.5 H501.5 V396" fill="none" stroke="#e4e4e8" stroke-width="1"/>
<line x1="359.5" y1="314.5" x2="501.5" y2="314.5" stroke="#e0e0e0" stroke-width="1"/>
<line x1="359.5" y1="370.5" x2="501.5" y2="370.5" stroke="#e6e6e6" stroke-width="1"/>
<defs><linearGradient id="g7" gradientUnits="userSpaceOnUse" x1="359" y1="0" x2="494.5" y2="0"><stop offset="0.0000" stop-color="#e0303c"/><stop offset="0.1756" stop-color="#e33a46"/><stop offset="0.1860" stop-color="#e6505e"/><stop offset="0.3417" stop-color="#ec7080"/><stop offset="0.3520" stop-color="#f4c1d5"/><stop offset="0.5336" stop-color="#f1c9dd"/><stop offset="0.5439" stop-color="#e7dcef"/><stop offset="0.6664" stop-color="#dfd9ef"/><stop offset="0.6768" stop-color="#d3cbea"/><stop offset="0.7697" stop-color="#c5bde6"/><stop offset="0.7801" stop-color="#6b5bba"/><stop offset="0.8878" stop-color="#6050b2"/><stop offset="0.8982" stop-color="#4e3fa2"/><stop offset="1.0000" stop-color="#44369a"/></linearGradient></defs>
<rect x="359" y="390" width="135.5" height="5.5" fill="url(#g7)"/>
<rect x="402.23" y="371" width="1.15" height="19" fill="#8c8c8c"/>
<rect x="405.03" y="371" width="1.15" height="19" fill="#8c8c8c"/>
<rect x="420.93" y="371" width="1.15" height="19" fill="#8c8c8c"/>
<rect x="422.93" y="371" width="1.15" height="19" fill="#8c8c8c"/>
<rect x="425.93" y="371" width="1.15" height="19" fill="#8c8c8c"/>
<rect x="427.93" y="371" width="1.15" height="19" fill="#8c8c8c"/>
<rect x="430.43" y="371" width="1.15" height="19" fill="#8c8c8c"/>
<rect x="434.03" y="371" width="1.15" height="19" fill="#444444"/>
<rect x="435.03" y="371" width="1.15" height="19" fill="#444444"/>
<rect x="438.43" y="371" width="1.15" height="19" fill="#444444"/>
<rect x="440.03" y="371" width="1.15" height="19" fill="#444444"/>
<rect x="441.93" y="371" width="1.15" height="19" fill="#8c8c8c"/>
<rect x="446.93" y="371" width="1.15" height="19" fill="#8c8c8c"/>
<rect x="448.43" y="371" width="1.15" height="19" fill="#444444"/>
<rect x="451.93" y="371" width="1.15" height="19" fill="#444444"/>
<rect x="455.93" y="371" width="1.15" height="19" fill="#8c8c8c"/>
<rect x="457.43" y="371" width="1.15" height="19" fill="#8c8c8c"/>
<rect x="458.93" y="371" width="1.15" height="19" fill="#8c8c8c"/>
<rect x="462.93" y="371" width="1.15" height="19" fill="#444444"/>
<rect x="464.43" y="371" width="1.15" height="19" fill="#444444"/>
<rect x="465.93" y="371" width="1.15" height="19" fill="#8c8c8c"/>
<rect x="467.43" y="371" width="1.15" height="19" fill="#adadad"/>
<rect x="470.93" y="371" width="1.15" height="19" fill="#1a1a1a"/>
<rect x="472.43" y="371" width="1.15" height="19" fill="#444444"/>
<rect x="473.93" y="371" width="1.15" height="19" fill="#8c8c8c"/>
<rect x="475.43" y="371" width="1.15" height="19" fill="#444444"/>
<rect x="476.93" y="371" width="1.15" height="19" fill="#8c8c8c"/>
<rect x="478.43" y="371" width="1.15" height="19" fill="#8c8c8c"/>
<rect x="479.93" y="371" width="1.15" height="19" fill="#1a1a1a"/>
<rect x="481.43" y="371" width="1.15" height="19" fill="#8c8c8c"/>
<rect x="484.43" y="371" width="1.15" height="19" fill="#444444"/>
<rect x="485.93" y="371" width="1.15" height="19" fill="#444444"/>
<rect x="487.43" y="371" width="1.15" height="19" fill="#8c8c8c"/>
<rect x="490.93" y="371" width="1.15" height="19" fill="#8c8c8c"/>
<rect x="492.43" y="371" width="1.15" height="19" fill="#adadad"/>
<polyline points="359.0,314.5 380.0,327.0 400.0,339.2 406.0,341.8 415.4,347.0 424.6,352.3 433.8,357.0 443.0,361.5 449.2,365.0 453.0,365.7 457.7,367.0 461.5,365.7 464.6,363.0 467.7,360.0 470.0,359.2 471.0,356.0 472.3,350.8 473.5,350.5 475.4,347.7 478.5,344.6 480.0,342.3 481.0,340.0 482.0,337.5 483.0,337.5 484.5,335.5 485.5,330.0 487.0,326.5 488.0,322.5 489.0,323.0 490.0,319.5 491.0,316.5 492.5,312.5 494.5,314.0" fill="none" stroke="#c8f0cc" stroke-width="2.4" stroke-linejoin="round" stroke-linecap="round"/>
<polyline points="359.0,314.5 380.0,327.0 400.0,339.2 406.0,341.8 415.4,347.0 424.6,352.3 433.8,357.0 443.0,361.5 449.2,365.0 453.0,365.7 457.7,367.0 461.5,365.7 464.6,363.0 467.7,360.0 470.0,359.2 471.0,356.0 472.3,350.8 473.5,350.5 475.4,347.7 478.5,344.6 480.0,342.3 481.0,340.0 482.0,337.5 483.0,337.5 484.5,335.5 485.5,330.0 487.0,326.5 488.0,322.5 489.0,323.0 490.0,319.5 491.0,316.5 492.5,312.5 494.5,314.0" fill="none" stroke="#26883c" stroke-width="1.0" stroke-linejoin="round" stroke-linecap="round"/>
<text x="392.3" y="303.7" font-size="9.7" font-weight="normal" text-anchor="start" fill="#231f20" stroke="#231f20" stroke-width="0.3" textLength="76.5" lengthAdjust="spacingAndGlyphs">KEGG_RIBOSOME</text>
<text x="437" y="324" font-size="7.2" font-weight="normal" text-anchor="start" fill="#231f20" stroke="#231f20" stroke-width="0.26" textLength="31" lengthAdjust="spacingAndGlyphs">NES –2.51</text>
<text x="437" y="332" font-size="7.2" font-weight="normal" text-anchor="start" fill="#231f20" stroke="#231f20" stroke-width="0.26" textLength="41" lengthAdjust="spacingAndGlyphs">FDR &lt; 0.0001</text>
<text x="358.7" y="405" font-size="7.0" font-weight="normal" text-anchor="start" fill="#231f20" stroke="#231f20" stroke-width="0.22" textLength="53.3" lengthAdjust="spacingAndGlyphs">CD99 Gt/Gt GMP</text>
<text x="449" y="405" font-size="7.0" font-weight="normal" text-anchor="start" fill="#231f20" stroke="#231f20" stroke-width="0.22" textLength="45.7" lengthAdjust="spacingAndGlyphs">CD99 WT GMP</text>
<path d="M359.5 526 V440.5 H501.5 V526" fill="none" stroke="#e4e4e8" stroke-width="1"/>
<line x1="359.5" y1="494.5" x2="501.5" y2="494.5" stroke="#e0e0e0" stroke-width="1"/>
<defs><linearGradient id="g8" gradientUnits="userSpaceOnUse" x1="359" y1="0" x2="494.3" y2="0"><stop offset="0.0000" stop-color="#e0303c"/><stop offset="0.1589" stop-color="#e33a46"/><stop offset="0.1693" stop-color="#e6505e"/><stop offset="0.3422" stop-color="#ec7080"/><stop offset="0.3525" stop-color="#f4c1d5"/><stop offset="0.5322" stop-color="#f1c9dd"/><stop offset="0.5425" stop-color="#e7dcef"/><stop offset="0.6674" stop-color="#dfd9ef"/><stop offset="0.6778" stop-color="#d3cbea"/><stop offset="0.7650" stop-color="#c5bde6"/><stop offset="0.7753" stop-color="#6b5bba"/><stop offset="0.8891" stop-color="#6050b2"/><stop offset="0.8995" stop-color="#4e3fa2"/><stop offset="1.0000" stop-color="#44369a"/></linearGradient></defs>
<rect x="359" y="520.7" width="135.3" height="5.0" fill="url(#g8)"/>
<rect x="359.23" y="501.5" width="1.15" height="19.200000000000045" fill="#8c8c8c"/>
<rect x="360.73" y="501.5" width="1.15" height="19.200000000000045" fill="#8c8c8c"/>
<rect x="361.93" y="501.5" width="1.15" height="19.200000000000045" fill="#444444"/>
<rect x="363.43" y="501.5" width="1.15" height="19.200000000000045" fill="#8c8c8c"/>
<rect x="366.43" y="501.5" width="1.15" height="19.200000000000045" fill="#444444"/>
<rect x="367.93" y="501.5" width="1.15" height="19.200000000000045" fill="#8c8c8c"/>
<rect x="372.43" y="501.5" width="1.15" height="19.200000000000045" fill="#8c8c8c"/>
<rect x="373.93" y="501.5" width="1.15" height="19.200000000000045" fill="#8c8c8c"/>
<rect x="375.43" y="501.5" width="1.15" height="19.200000000000045" fill="#8c8c8c"/>
<rect x="377.62" y="501.5" width="1.15" height="19.200000000000045" fill="#8c8c8c"/>
<rect x="381.43" y="501.5" width="1.15" height="19.200000000000045" fill="#444444"/>
<rect x="382.93" y="501.5" width="1.15" height="19.200000000000045" fill="#8c8c8c"/>
<rect x="388.12" y="501.5" width="1.15" height="19.200000000000045" fill="#8c8c8c"/>
<rect x="389.62" y="501.5" width="1.15" height="19.200000000000045" fill="#8c8c8c"/>
<rect x="391.93" y="501.5" width="1.15" height="19.200000000000045" fill="#444444"/>
<rect x="395.62" y="501.5" width="1.15" height="19.200000000000045" fill="#8c8c8c"/>
<rect x="399.43" y="501.5" width="1.15" height="19.200000000000045" fill="#8c8c8c"/>
<rect x="407.62" y="501.5" width="1.15" height="19.200000000000045" fill="#8c8c8c"/>
<rect x="409.12" y="501.5" width="1.15" height="19.200000000000045" fill="#8c8c8c"/>
<rect x="411.43" y="501.5" width="1.15" height="19.200000000000045" fill="#444444"/>
<rect x="417.43" y="501.5" width="1.15" height="19.200000000000045" fill="#8c8c8c"/>
<rect x="421.12" y="501.5" width="1.15" height="19.200000000000045" fill="#8c8c8c"/>
<rect x="423.43" y="501.5" width="1.15" height="19.200000000000045" fill="#8c8c8c"/>
<rect x="424.93" y="501.5" width="1.15" height="19.200000000000045" fill="#8c8c8c"/>
<rect x="427.12" y="501.5" width="1.15" height="19.200000000000045" fill="#8c8c8c"/>
<rect x="433.43" y="501.5" width="1.15" height="19.200000000000045" fill="#8c8c8c"/>
<rect x="437.12" y="501.5" width="1.15" height="19.200000000000045" fill="#444444"/>
<rect x="439.43" y="501.5" width="1.15" height="19.200000000000045" fill="#8c8c8c"/>
<rect x="446.93" y="501.5" width="1.15" height="19.200000000000045" fill="#8c8c8c"/>
<rect x="449.43" y="501.5" width="1.15" height="19.200000000000045" fill="#8c8c8c"/>
<rect x="451.43" y="501.5" width="1.15" height="19.200000000000045" fill="#adadad"/>
<rect x="456.93" y="501.5" width="1.15" height="19.200000000000045" fill="#8c8c8c"/>
<rect x="459.93" y="501.5" width="1.15" height="19.200000000000045" fill="#8c8c8c"/>
<rect x="461.43" y="501.5" width="1.15" height="19.200000000000045" fill="#adadad"/>
<rect x="464.43" y="501.5" width="1.15" height="19.200000000000045" fill="#8c8c8c"/>
<rect x="466.93" y="501.5" width="1.15" height="19.200000000000045" fill="#444444"/>
<rect x="469.93" y="501.5" width="1.15" height="19.200000000000045" fill="#444444"/>
<rect x="478.43" y="501.5" width="1.15" height="19.200000000000045" fill="#8c8c8c"/>
<rect x="480.43" y="501.5" width="1.15" height="19.200000000000045" fill="#8c8c8c"/>
<rect x="482.43" y="501.5" width="1.15" height="19.200000000000045" fill="#8c8c8c"/>
<rect x="485.93" y="501.5" width="1.15" height="19.200000000000045" fill="#8c8c8c"/>
<polyline points="359.0,495.5 360.0,489.5 361.0,490.0 362.0,483.0 363.0,477.0 364.5,468.5 366.0,465.0 367.0,464.5 368.0,458.0 369.5,454.5 371.0,455.5 372.0,456.0 373.0,453.0 375.0,450.5 377.0,448.5 379.5,446.5 381.0,447.0 382.0,444.5 383.5,442.8 386.0,444.0 389.0,445.5 393.0,444.5 396.0,446.5 400.0,448.7 404.0,451.2 408.0,454.0 413.0,455.6 420.0,460.0 430.0,466.0 440.0,474.0 450.0,481.0 460.0,488.0 464.0,491.0 470.0,492.4 473.0,493.0 476.0,495.0 479.0,497.4 481.0,495.4 484.0,493.0 486.0,491.0 488.0,489.0 490.0,491.0 492.0,492.4 495.0,494.4" fill="none" stroke="#c8f0cc" stroke-width="2.4" stroke-linejoin="round" stroke-linecap="round"/>
<polyline points="359.0,495.5 360.0,489.5 361.0,490.0 362.0,483.0 363.0,477.0 364.5,468.5 366.0,465.0 367.0,464.5 368.0,458.0 369.5,454.5 371.0,455.5 372.0,456.0 373.0,453.0 375.0,450.5 377.0,448.5 379.5,446.5 381.0,447.0 382.0,444.5 383.5,442.8 386.0,444.0 389.0,445.5 393.0,444.5 396.0,446.5 400.0,448.7 404.0,451.2 408.0,454.0 413.0,455.6 420.0,460.0 430.0,466.0 440.0,474.0 450.0,481.0 460.0,488.0 464.0,491.0 470.0,492.4 473.0,493.0 476.0,495.0 479.0,497.4 481.0,495.4 484.0,493.0 486.0,491.0 488.0,489.0 490.0,491.0 492.0,492.4 495.0,494.4" fill="none" stroke="#26883c" stroke-width="1.0" stroke-linejoin="round" stroke-linecap="round"/>
<text x="379" y="423.4" font-size="9.7" font-weight="normal" text-anchor="start" fill="#231f20" stroke="#231f20" stroke-width="0.3" textLength="102.8" lengthAdjust="spacingAndGlyphs">REACTOME_UNFOLDED</text>
<text x="385.8" y="434.2" font-size="9.7" font-weight="normal" text-anchor="start" fill="#231f20" stroke="#231f20" stroke-width="0.3" textLength="88.6" lengthAdjust="spacingAndGlyphs">PROTEIN_RESPONSE</text>
<text x="456" y="450" font-size="7.2" font-weight="normal" text-anchor="start" fill="#231f20" stroke="#231f20" stroke-width="0.26" textLength="27" lengthAdjust="spacingAndGlyphs">NES 1.51</text>
<text x="456" y="458" font-size="7.2" font-weight="normal" text-anchor="start" fill="#231f20" stroke="#231f20" stroke-width="0.26" textLength="31" lengthAdjust="spacingAndGlyphs">FDR 0.031</text>
<text x="359" y="535" font-size="7.0" font-weight="normal" text-anchor="start" fill="#231f20" stroke="#231f20" stroke-width="0.22" textLength="53.3" lengthAdjust="spacingAndGlyphs">CD99 Gt/Gt GMP</text>
<text x="447.2" y="535" font-size="7.0" font-weight="normal" text-anchor="start" fill="#231f20" stroke="#231f20" stroke-width="0.22" textLength="47.1" lengthAdjust="spacingAndGlyphs">CD99 WT GMP</text>
<defs><clipPath id="gmpclip"><circle cx="242.5" cy="378.7" r="69.1"/></clipPath></defs>
<circle cx="242.5" cy="378.7" r="69.1" fill="#bdbdc1"/>
<circle cx="105.8" cy="378.7" r="82.6" fill="#f0f0f0" clip-path="url(#gmpclip)"/>
<circle cx="242.5" cy="378.7" r="69.1" fill="none" stroke="#303030" stroke-width="1.0"/>
<circle cx="105.8" cy="378.7" r="82.6" fill="none" stroke="#303030" stroke-width="1.0"/>
<text x="96.8" y="376" font-size="8.4" font-weight="bold" text-anchor="start" fill="#111" stroke="#111" stroke-width="0.3" textLength="17.7" lengthAdjust="spacingAndGlyphs">HSC</text>
<text x="98.7" y="385.8" font-size="8.4" font-weight="normal" text-anchor="start" fill="#222" stroke="#222" stroke-width="0.2" textLength="14.2" lengthAdjust="spacingAndGlyphs">333</text>
<text x="232" y="376" font-size="8.4" font-weight="bold" text-anchor="start" fill="#111" stroke="#111" stroke-width="0.3" textLength="20.4" lengthAdjust="spacingAndGlyphs">GMP</text>
<text x="234.7" y="386.3" font-size="8.4" font-weight="normal" text-anchor="start" fill="#222" stroke="#222" stroke-width="0.2" textLength="14.6" lengthAdjust="spacingAndGlyphs">232</text>
<path d="M178.3 381.7 V376.1 L176.3 377.8 M183.4 381.7 V376.1 L181.4 377.8" fill="none" stroke="#222" stroke-width="0.95" stroke-linejoin="miter"/>
<rect x="0.5" y="0.5" width="519" height="543" fill="none" stroke="#565656" stroke-width="1"/>
</svg></body></html>
